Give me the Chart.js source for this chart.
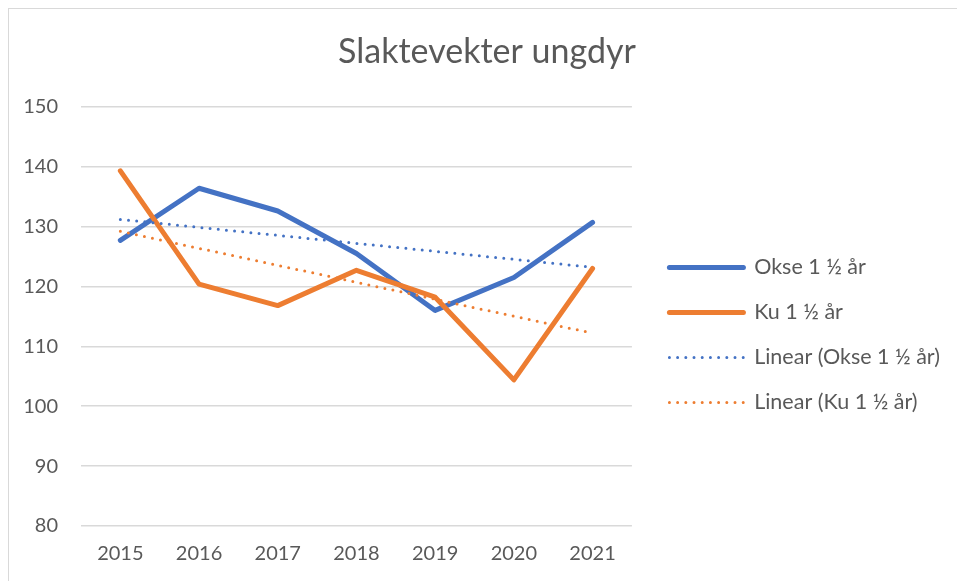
<!DOCTYPE html>
<html>
<head>
<meta charset="utf-8">
<script src="https://cdn.jsdelivr.net/npm/chart.js@4"></script>
<style>
  body { margin: 0; background: #fff; }
  #wrap { position: relative; width: 957px; height: 581px; overflow: hidden; }
  #frame { position: absolute; left: 8px; top: 8px; width: 1000px; height: 1000px; border: 1.5px solid #d9d9d9; }
  canvas { position: absolute; left: 0; top: 0; }
</style>
</head>
<body>
<div id="wrap">
  <div id="frame"></div>
  <canvas id="chart" width="957" height="581"></canvas>
</div>
<script>
const years = ["2015", "2016", "2017", "2018", "2019", "2020", "2021"];
const okse = [127.7, 136.4, 132.6, 125.5, 116.0, 121.5, 130.7];
const ku = [139.3, 120.4, 116.8, 122.7, 118.2, 104.4, 123.0];
// trendline end points
const okseTrend = [131.2, null, null, null, null, null, 123.2];
const kuTrend = [129.2, null, null, null, null, null, 112.2];

const blue = "#4472C4";
const orange = "#ED7D31";
const textColor = "#595959";
const font = "Lato, 'Open Sans', sans-serif";

const ctx = document.getElementById("chart").getContext("2d");
const myChart = new Chart(ctx, {
  type: "line",
  data: {
    labels: years,
    datasets: [
      {
        label: "Okse 1 ½ år",
        data: okse,
        borderColor: blue,
        backgroundColor: blue,
        borderWidth: 5,
        borderCapStyle: "round",
        borderJoinStyle: "round",
        pointRadius: 0,
        order: 4,
      },
      {
        label: "Ku 1 ½ år",
        data: ku,
        borderColor: orange,
        backgroundColor: orange,
        borderWidth: 5,
        borderCapStyle: "round",
        borderJoinStyle: "round",
        pointRadius: 0,
        order: 3,
      },
      {
        label: "Linear (Okse 1 ½ år)",
        data: okseTrend,
        borderColor: blue,
        backgroundColor: blue,
        borderWidth: 3,
        borderDash: [0, 8.2],
        borderCapStyle: "round",
        pointRadius: 0,
        spanGaps: true,
        order: 2,
      },
      {
        label: "Linear (Ku 1 ½ år)",
        data: kuTrend,
        borderColor: orange,
        backgroundColor: orange,
        borderWidth: 3,
        borderDash: [0, 8.2],
        borderCapStyle: "round",
        pointRadius: 0,
        spanGaps: true,
        order: 1,
      },
    ],
  },
  options: {
    responsive: false,
    animation: false,
    layout: {
      padding: { left: 24, right: 7, top: 0, bottom: 0 },
    },
    plugins: {
      tooltip: { enabled: false },
      title: {
        display: true,
        text: "Slaktevekter ungdyr",
        color: textColor,
        font: { family: font, size: 34, weight: "normal" },
        padding: { top: 32, bottom: 34 },
      },
      legend: {
        position: "right",
        maxWidth: 330,
        // blank title pushes the legend rows down
        title: {
          display: true,
          text: " ",
          font: { family: font, size: 20 },
          padding: 32.5,
        },
        labels: {
          color: textColor,
          font: { family: font, size: 21.5 },
          usePointStyle: true,
          pointStyle: "line",
          pointStyleWidth: 74,
          boxHeight: 21,
          padding: 23.5,
          sort: (a, b) => a.datasetIndex - b.datasetIndex,
          generateLabels: (chart) => {
            const items = Chart.defaults.plugins.legend.labels.generateLabels(chart);
            items.forEach((item) => {
              const ds = chart.data.datasets[item.datasetIndex];
              item.lineWidth = ds.borderWidth;
              item.lineDash = ds.borderDash || [];
              item.lineCap = "round";
              item.strokeStyle = ds.borderColor;
            });
            return items;
          },
        },
      },
    },
    scales: {
      x: {
        offset: true,
        grid: { display: false, drawTicks: false },
        border: { display: false },
        ticks: {
          color: textColor,
          font: { family: font, size: 20 },
          padding: 15.5,
          maxRotation: 0,
        },
      },
      y: {
        min: 80,
        max: 150,
        afterFit: (scale) => {
          scale.width = 57;
        },
        grid: { color: "#d9d9d9", lineWidth: 1.5, drawTicks: false },
        border: { display: false },
        ticks: {
          stepSize: 10,
          color: textColor,
          font: { family: font, size: 20 },
          padding: 23,
        },
      },
      // empty axis, only keeps a gap between the plot and the legend
      gap: {
        position: "right",
        grid: { display: false, drawTicks: false },
        border: { display: false },
        ticks: { display: false },
        afterFit: (scale) => {
          scale.width = 14;
        },
      },
    },
  },
});
</script>
</body>
</html>
